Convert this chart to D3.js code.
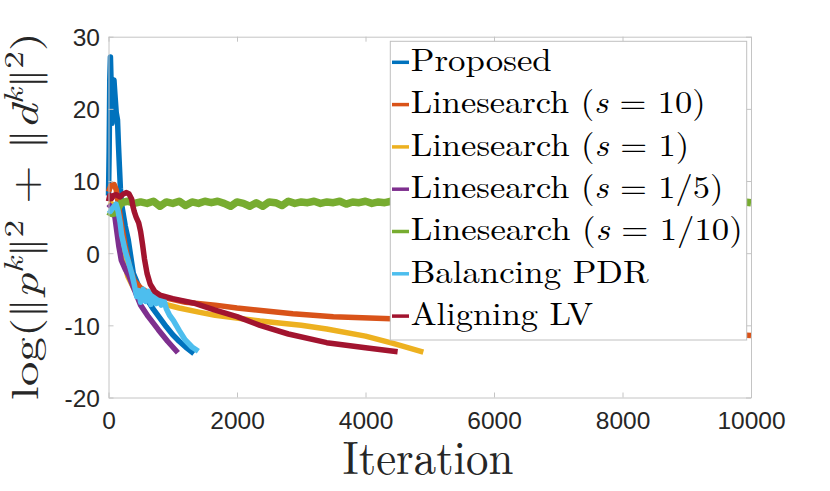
<!DOCTYPE html>
<html>
<head>
<meta charset="utf-8">
<script src="https://cdn.jsdelivr.net/npm/d3@7/dist/d3.min.js"></script>
<style>
html,body{margin:0;padding:0;background:#fff;}
svg{display:block;}
</style>
</head>
<body>
<svg id="chart" width="830" height="491"></svg>
<script>
// ---------- data ----------
const xTicks = [0, 2000, 4000, 6000, 8000, 10000];
const yTicks = [-20, -10, 0, 10, 20, 30];
const seriesNames = ["Proposed", "Linesearch (s = 10)", "Linesearch (s = 1)", "Linesearch (s = 1/5)",
  "Linesearch (s = 1/10)", "Balancing PDR", "Aligning LV"];
const legendParts = [
  ["Proposed"], ["Linesearch (", "s", " = 10)"], ["Linesearch (", "s", " = 1)"],
  ["Linesearch (", "s", " = 1/5)"], ["Linesearch (", "s", " = 1/10)"], ["Balancing PDR"], ["Aligning LV"]];
const colors = ["#0072BD", "#D95319", "#EDB120", "#7E2F8E", "#77AC30", "#4DBEEE", "#A2142F"];

const proposed = [[0,8],[10,14],[20,24],[30,27.2],[45,22],[55,18],[70,21],[85,24],[100,22],[120,19.5],
  [140,18.5],[155,15],[170,12],[185,9],[200,7],[215,6.2],[260,3.8],[308,1.8],[386,-2.8],[490,-5.0],
  [600,-6.4],[700,-7.8],[800,-9.0],[900,-10.2],[1000,-11.3],[1100,-12.2],[1200,-13.0],[1330,-13.9]];
const ls10 = [[0,8.5],[40,9.4],[90,9.5],[120,8.8],[150,7],[200,4],[260,1],[330,-2],[400,-3.8],[500,-4.8],
  [600,-5.4],[800,-6.0],[1200,-6.8],[1660,-7.2],[2000,-7.6],[2870,-8.4],[3500,-8.8],[4400,-9.1],
  [5000,-9.3],[6000,-9.7],[7000,-10.1],[8000,-10.5],[9000,-10.9],[10000,-11.4]];
const ls1 = [[0,7],[60,6.8],[100,6.3],[150,4],[200,1.2],[250,-1.5],[300,-3.2],[400,-5],[500,-5.9],
  [650,-6.5],[800,-6.9],[1100,-7.6],[1424,-8.2],[1660,-8.6],[2358,-9.4],[3000,-10],[3396,-10.5],
  [4000,-11.5],[4430,-12.5],[4900,-13.7]];
const ls15 = [[0,6.8],[60,6.2],[100,5],[130,3],[160,1],[200,-1],[260,-2.2],[310,-3],[400,-5],[500,-7.2],
  [620,-8.8],[775,-10.6],[920,-12.2],[1080,-13.8]];
const ls110Head = [[0,5.8],[50,5.5],[100,5.6],[150,6.3]];
const ls110Step = 100; // samples every 100 iterations from 200 to 10000
const ls110Vals = [
  7.0,7.2,6.9,7.1,6.9,7.2,6.5,7.1,6.9,7.2,
  6.6,7.1,6.9,7.2,7.0,7.2,6.9,6.5,7.1,6.9,
  6.5,7.0,6.5,7.1,7.0,6.6,7.2,6.9,7.1,7.0,
  7.2,6.9,7.1,7.0,7.2,6.8,7.1,7.0,7.2,6.9,
  7.1,7.0,7.2,6.9,7.1,6.9,7.2,7.0,6.7,7.1,
  6.9,7.2,7.0,7.1,6.9,7.2,6.9,7.1,7.0,7.2,
  6.8,7.1,7.0,7.2,6.9,7.1,7.0,7.2,6.9,7.1,
  6.9,7.2,7.0,7.1,6.8,7.2,7.0,7.1,6.9,7.2,
  7.0,7.1,6.9,7.2,7.0,7.1,6.8,7.2,6.9,7.1,
  7.0,7.2,6.9,7.1,7.0,7.2,6.9,7.1,7.0];
const pdr = [[0,6.0],[30,5.8],[70,6.3],[117,6.8],[150,5.8],[180,4.3],[205,2.5],[260,0.3],[310,-1.2],
  [361,-2.8],[400,-4.3],[439,-6.0],[470,-5.2],[500,-6.8],[540,-5.0],[580,-6.7],[620,-5.3],[660,-7.1],
  [700,-5.6],[740,-7.0],[780,-5.9],[820,-7.2],[860,-6.4],[900,-7.7],[950,-8.6],[1009,-9.3],
  [1100,-10.7],[1191,-12],[1300,-13],[1398,-13.6]];
const lv = [[0,7.2],[20,8.0],[50,7.6],[80,8.0],[120,8.1],[180,7.8],[230,8.2],[280,8.4],[320,8.2],
  [360,7.5],[380,6.5],[400,5.8],[430,5],[470,4.2],[500,3],[530,1.2],[560,-0.8],[600,-2.8],[650,-4.3],
  [720,-5.3],[800,-5.8],[1000,-6.3],[1320,-6.9],[1660,-7.9],[2000,-8.8],[2358,-10],[2800,-11.2],
  [3396,-12.4],[4000,-13.1],[4500,-13.65]];

const ls110 = ls110Head.concat(ls110Vals.map((v, i) => [200 + i * ls110Step, v]));
const allSeries = [proposed, ls10, ls1, ls15, ls110, pdr, lv];

// ---------- layout ----------
const svg = d3.select("#chart");
const L = 108.5, R = 751, T = 36.7, B = 397.5;
const x = d3.scaleLinear().domain([0, 10000]).range([L, R]);
const y = d3.scaleLinear().domain([-20, 30]).range([B, T]);
const axisColor = "#c4c4c4";
const tickFont = "'Liberation Sans', Arial, Helvetica, sans-serif";
const serif = "'Latin Modern Roman', 'Liberation Serif', serif";
const barFont = "'Latin Modern Math', 'Latin Modern Roman', 'DejaVu Serif', serif";

// lines
const line = d3.line().x(d => x(d[0])).y(d => y(d[1]));
svg.append("g").selectAll("path").data(allSeries).join("path")
  .attr("d", line)
  .attr("fill", "none")
  .attr("stroke", (d, i) => colors[i])
  .attr("stroke-width", (d, i) => i === 4 ? 7.5 : 5.5)
  .attr("stroke-linejoin", "round")
  .attr("stroke-linecap", "butt");

// axes
function styleAxis(g) {
  g.select(".domain").attr("stroke", axisColor).attr("stroke-width", 1);
  g.selectAll(".tick line").attr("stroke", axisColor).attr("stroke-width", 1);
  g.selectAll(".tick text").attr("fill", "#262626").style("font-family", tickFont).style("font-size", "24.5px");
}
const gx = svg.append("g").attr("transform", `translate(0,${B})`)
  .call(d3.axisBottom(x).tickValues(xTicks).tickSizeInner(-5).tickSizeOuter(0).tickFormat(d => String(d)));
styleAxis(gx);
gx.selectAll(".tick text").attr("y", 31.5).attr("dy", 0);

const gxt = svg.append("g").attr("transform", `translate(0,${T})`)
  .call(d3.axisTop(x).tickValues(xTicks).tickSizeInner(-5).tickSizeOuter(0).tickFormat(""));
styleAxis(gxt);

const gy = svg.append("g").attr("transform", `translate(${L},0)`)
  .call(d3.axisLeft(y).tickValues(yTicks).tickSizeInner(-5).tickSizeOuter(0).tickFormat(d => String(d)));
styleAxis(gy);
gy.selectAll(".tick text").attr("x", -8.5).attr("dy", "0.36em");

const gyr = svg.append("g").attr("transform", `translate(${R},0)`)
  .call(d3.axisRight(y).tickValues(yTicks).tickSizeInner(-5).tickSizeOuter(0).tickFormat(""));
styleAxis(gyr);

// helper: horizontally scale text to a target width
function fit(textSel, tx, ty, target, rot) {
  const w = textSel.node().getBBox().width;
  const s = target / w;
  textSel.attr("transform", `translate(${tx},${ty})${rot ? " rotate(" + rot + ")" : ""} scale(${s},1)`);
}

// x label
const xl = svg.append("text").attr("x", 0).attr("y", 0).attr("text-anchor", "middle")
  .style("font-family", serif).style("font-size", "47px").attr("fill", "#262626").text("Iteration");
fit(xl, 428, 474, 171);

// y label
const yl = svg.append("text").attr("x", 0).attr("y", 0).attr("text-anchor", "middle")
  .style("font-family", serif).style("font-size", "38px").attr("fill", "#262626");
const ylParts = [
  {t: "log("}, {t: "\u2016", bar: true}, {t: "p", it: true}, {t: "k", it: true, sup: true},
  {t: "\u2016", back: true, bar: true}, {t: "2", sup: true}, {t: " + ", back: true},
  {t: "\u2016", bar: true}, {t: "d", it: true}, {t: "k", it: true, sup: true},
  {t: "\u2016", back: true, bar: true}, {t: "2", sup: true}, {t: ")", back: true}];
ylParts.forEach(p => {
  const ts = yl.append("tspan").text(p.t);
  if (p.it) ts.style("font-style", "italic");
  if (p.bar) ts.style("font-family", barFont);
  if (p.sup) ts.style("font-size", "27px").attr("dy", -15);
  if (p.back) ts.attr("dy", 15);
});
fit(yl, 37.5, 216, 368, -90);

// legend
const lgX = 390.3, lgY = 41.3, lgW = 356.4, lgH = 298.7;
svg.append("rect").attr("x", lgX).attr("y", lgY).attr("width", lgW).attr("height", lgH)
  .attr("fill", "#fff").attr("stroke", "#c0c0c0").attr("stroke-width", 1);
const legendWidths = [141, 295, 278.6, 312.6, 332, 238.6, 182.6];
legendParts.forEach((parts, i) => {
  const cy = 62.3 + 42.3 * i;
  svg.append("line").attr("x1", 392).attr("x2", 409).attr("y1", cy).attr("y2", cy)
    .attr("stroke", colors[i]).attr("stroke-width", 3.5);
  const t = svg.append("text").attr("x", 0).attr("y", 0)
    .style("font-family", serif).style("font-size", "31.7px").attr("fill", "#000");
  parts.forEach((p, j) => {
    const ts = t.append("tspan").text(p);
    if (parts.length === 3 && j === 1) ts.style("font-style", "italic");
  });
  fit(t, 410.7, cy + 8.7, legendWidths[i]);
});
</script>
</body>
</html>
